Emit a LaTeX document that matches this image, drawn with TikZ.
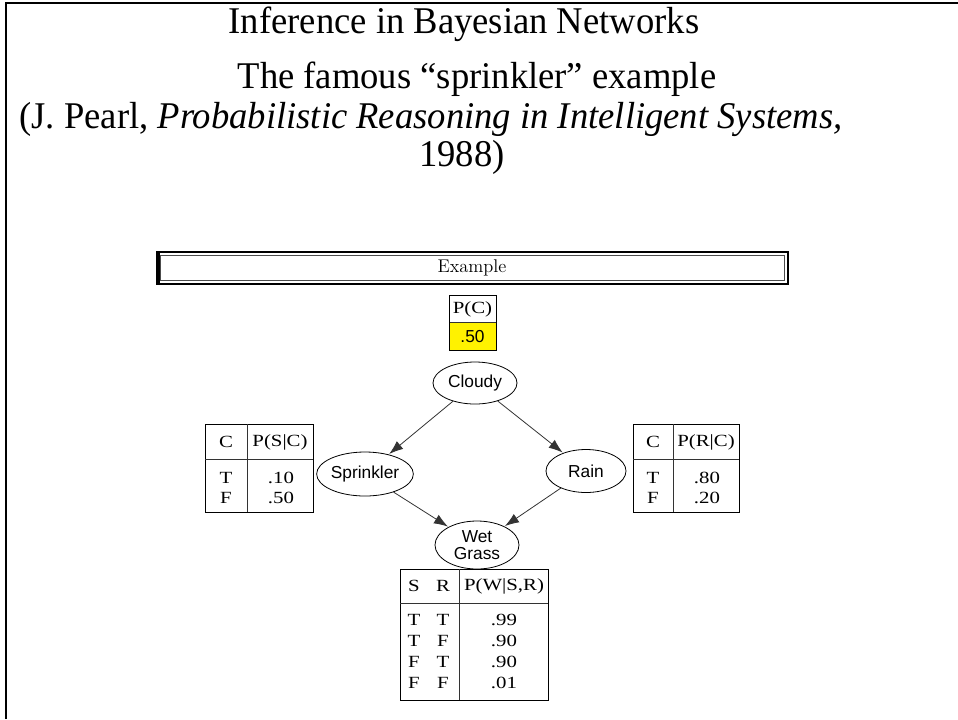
\documentclass[tikz,border=0pt]{standalone}
\usepackage{fontspec}
\usetikzlibrary{shapes.geometric,arrows.meta}
\newfontfamily\timesfont[FakeStretch=0.97]{Liberation Serif}
\newfontfamily\nodefont{Liberation Sans}
\newfontfamily\cptfont[FakeStretch=1.22]{Liberation Serif}
\def\px{0.75pt}
\begin{document}
\begin{tikzpicture}[x=0.75pt,y=-0.75pt,
  heading/.style={font=\timesfont\fontsize{28.3}{30}\selectfont, inner sep=0pt, anchor=base},
  bn/.style={draw, ellipse, line width=0.6pt, inner sep=0pt, align=center,
    font=\nodefont\fontsize{13}{13.5}\selectfont},
  edge/.style={-{Latex[length=10.5pt,width=7.5pt]}, line width=0.6pt, draw=black!80, shorten >=0.5pt},
  tframe/.style={draw, line width=0.6pt, inner sep=0pt, anchor=north west},
  tline/.style={line width=0.6pt, draw=black!80},
  tcell/.style={font=\cptfont\fontsize{12.8}{14}\selectfont, inner sep=0pt, anchor=center},
  scell/.style={font=\nodefont\fontsize{13}{15}\selectfont, inner sep=0pt, anchor=center}]
\useasboundingbox (0,0) rectangle (958,719);

% page frame: rule along the top and the left side
\draw[line width=1.6pt] (6,719) -- (6,3) -- (958,3);

% heading lines
\node[heading] (h1) at (464,33) {Inference in Bayesian Networks};
\node[heading] (h2) at (477,88) {The famous “sprinkler” example};
\node[heading] (h3) at (431,128) {(J. Pearl, \textit{Probabilistic Reasoning in Intelligent Systems,}};
\node[heading] (h4) at (462,166) {1988)};

% banner
\draw[line width=1.5pt] (157,252) rectangle (788,284);
\draw[line width=0.7pt, draw=black!70] (160.5,255.5) rectangle (784.5,280.5);
\draw[line width=2.2pt] (159,253) -- (159,283);
\node[font=\fontsize{13.8}{15}\selectfont, inner sep=0pt] (ex) at (472,268) {Example};

% prior of Cloudy
\node[tframe, minimum width=47*\px, minimum height=55*\px] (tc) at (449,295) {};
\fill[yellow] (449,322) rectangle (496,350);
\draw[tline] (449,322) -- (496,322);
\draw[line width=0.6pt] (449,295) rectangle (496,350);
\node[tcell] (tc1) at (472.5,309) {P(C)};
\node[scell] (tc2) at (472.5,336.5) {.50};

% network nodes
\node[bn, minimum width=84*\px, minimum height=42*\px] (cloudy) at (475,383) {Cloudy};
\node[bn, minimum width=96*\px, minimum height=44*\px] (sprinkler) at (365,474) {Sprinkler};
\node[bn, minimum width=80*\px, minimum height=43*\px] (rain) at (586,471) {Rain};
\node[bn, minimum width=84*\px, minimum height=48*\px] (wet) at (477,545) {Wet\\[-1pt]Grass};

\draw[edge] (cloudy) -- (sprinkler);
\draw[edge] (cloudy) -- (rain);
\draw[edge] (sprinkler) -- (wet);
\draw[edge] (rain) -- (wet);

% table for Sprinkler
\node[tframe, minimum width=108*\px, minimum height=88*\px] (ts) at (205,424) {};
\draw[tline] (247,424) -- (247,512);
\draw[tline] (205,459) -- (313,459);
\node[tcell] (ts1) at (226,442) {C};
\node[tcell] (ts2) at (280,442) {P(S|C)};
\node[tcell] (ts3) at (226,478) {T};
\node[tcell] (ts4) at (281,478) {.10};
\node[tcell] (ts5) at (226,498) {F};
\node[tcell] (ts6) at (281,498) {.50};

% table for Rain
\node[tframe, minimum width=106*\px, minimum height=88*\px] (tr) at (633,424) {};
\draw[tline] (673,424) -- (673,512);
\draw[tline] (633,459) -- (739,459);
\node[tcell] (tr1) at (653,442) {C};
\node[tcell] (tr2) at (706,442) {P(R|C)};
\node[tcell] (tr3) at (653,478) {T};
\node[tcell] (tr4) at (707,478) {.80};
\node[tcell] (tr5) at (653,498) {F};
\node[tcell] (tr6) at (707,498) {.20};

% table for Wet Grass
\node[tframe, minimum width=148*\px, minimum height=131*\px] (tw) at (400,569) {};
\draw[tline] (459,569) -- (459,700);
\draw[tline] (400,603) -- (548,603);
\node[tcell] (tw1) at (414,586) {S};
\node[tcell] (tw2) at (443,586) {R};
\node[tcell] (tw3) at (504,586) {P(W|S,R)};
\foreach \s/\r/\p [count=\i] in {T/T/.99, T/F/.90, F/T/.90, F/F/.01} {
  \node[tcell] (ws\i) at (414,{599+21*\i}) {\s};
  \node[tcell] (wr\i) at (443,{599+21*\i}) {\r};
  \node[tcell] (wp\i) at (504,{599+21*\i}) {\p};
}
\end{tikzpicture}
\end{document}
